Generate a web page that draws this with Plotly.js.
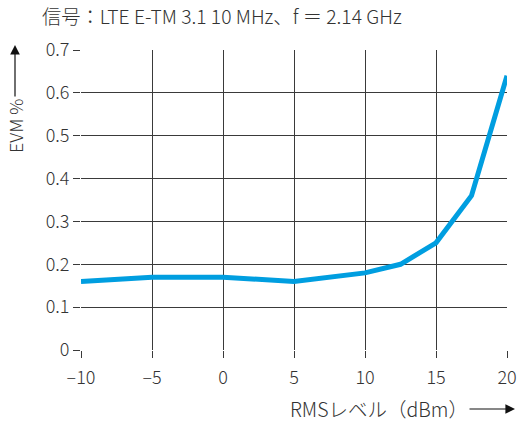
<!DOCTYPE html>
<html>
<head>
<meta charset="utf-8">
<script src="https://cdn.plot.ly/plotly-3.0.1.min.js"></script>
<style>html,body{margin:0;padding:0;background:#fff;}#chart{width:518px;height:422px;}</style>
</head>
<body>
<div id="chart"></div>
<script>
// RMS level (dBm) and measured EVM (%)
const rmsLevel = [-10, -5, 0, 5, 10, 12.5, 15, 17.5, 20];
const evmPercent = [0.16, 0.17, 0.17, 0.16, 0.18, 0.20, 0.25, 0.36, 0.64];
const xTicks = [-10, -5, 0, 5, 10, 15, 20];
const yTicks = [0, 0.1, 0.2, 0.3, 0.4, 0.5, 0.6, 0.7];

const font = "'Noto Sans CJK JP', 'Noto Sans', sans-serif";
const textColor = '#333333';
const gridColor = '#3a3a3a';

const trace = {
  x: rmsLevel,
  y: evmPercent,
  type: 'scatter',
  mode: 'lines',
  line: {color: '#009ee0', width: 5},
  hoverinfo: 'skip'
};

const axisCommon = {
  showgrid: true,
  gridcolor: gridColor,
  gridwidth: 1,
  zeroline: false,
  showline: false,
  ticks: 'outside',
  ticklen: 7,
  tickcolor: gridColor,
  tickwidth: 1,
  tickfont: {family: font, size: 18, color: textColor, weight: 300}
};

const layout = {
  width: 518,
  height: 422,
  margin: {l: 81, r: 11, t: 50, b: 72},
  paper_bgcolor: '#ffffff',
  plot_bgcolor: '#ffffff',
  showlegend: false,
  title: {
    text: '信号：LTE E-TM 3.1 10 MHz、f ＝ 2.14 GHz',
    font: {family: font, size: 19.3, color: textColor, weight: 300},
    x: 42 / 518, xanchor: 'left',
    y: 1 - 17 / 422, yanchor: 'middle'
  },
  xaxis: Object.assign({}, axisCommon, {
    range: [-10, 20],
    tickvals: xTicks,
    ticktext: xTicks.map(v => v < 0 ? '–' + Math.abs(v) : String(v)),
    ticklabelstandoff: 4,
    fixedrange: true
  }),
  yaxis: Object.assign({}, axisCommon, {
    range: [0, 0.7],
    tickvals: yTicks,
    ticktext: yTicks.map(v => v === 0 ? '0' : v.toFixed(1)),
    fixedrange: true
  }),
  annotations: [
    {
      // y axis title
      text: 'EVM %', textangle: -90,
      xref: 'paper', yref: 'paper',
      x: (15 - 81) / 426, y: (350 - 126) / 300,
      xanchor: 'center', yanchor: 'middle',
      showarrow: false,
      font: {family: font, size: 18, color: textColor, weight: 300}
    },
    {
      // y axis direction arrow
      text: '',
      xref: 'paper', yref: 'paper',
      x: (15 - 81) / 426, y: (350 - 45) / 300,
      ax: 0, ay: 53,
      showarrow: true, arrowhead: 2, arrowsize: 1.6, arrowwidth: 1.2,
      arrowcolor: '#111111'
    },
    {
      // x axis title
      text: 'RMSレベル（dBm）',
      xref: 'paper', yref: 'paper',
      x: (379 - 81) / 426, y: (350 - 408) / 300,
      xanchor: 'center', yanchor: 'middle',
      borderpad: 0,
      showarrow: false,
      font: {family: font, size: 19.5, color: textColor, weight: 300}
    },
    {
      // x axis direction arrow
      text: '',
      xref: 'paper', yref: 'paper',
      x: (515 - 81) / 426, y: (350 - 409) / 300,
      ax: -47, ay: 0,
      showarrow: true, arrowhead: 2, arrowsize: 1.6, arrowwidth: 1.2,
      arrowcolor: '#111111'
    }
  ]
};

Plotly.newPlot('chart', [trace], layout, {displayModeBar: false, staticPlot: true});
</script>
</body>
</html>
